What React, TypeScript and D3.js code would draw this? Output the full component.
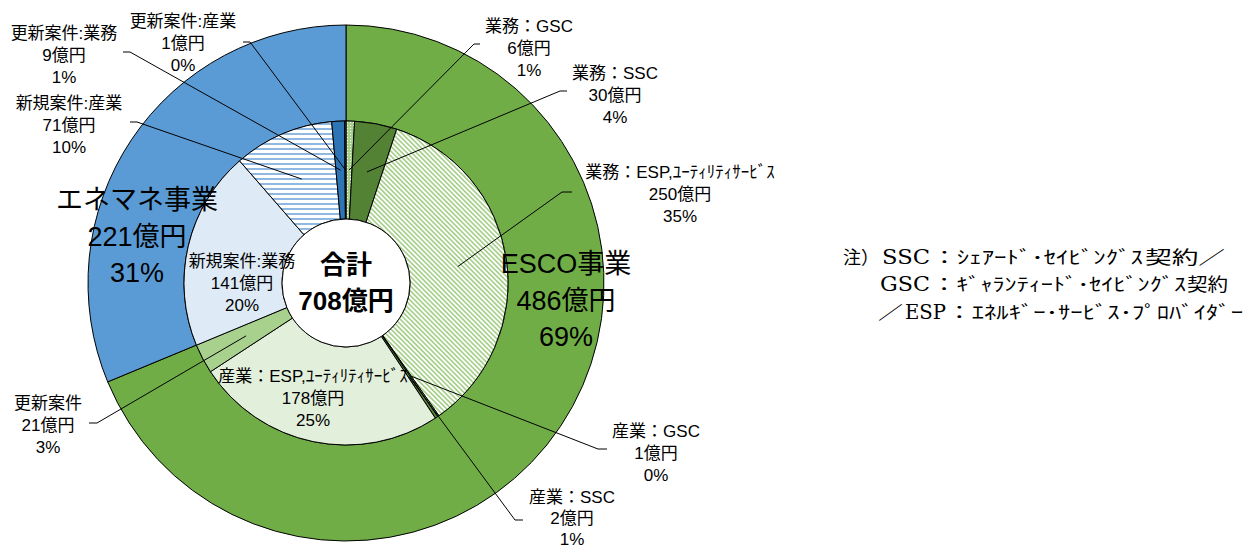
import React from 'react';
import * as d3 from 'd3';

// ---- data ----
const outerNames = ['ESCO事業', 'エネマネ事業'];
const outerValues = [486, 221];
const outerPct = ['69%', '31%'];

const innerNames = [
  '業務：GSC',
  '業務：SSC',
  '業務：ESP,ﾕｰﾃｨﾘﾃｨｻｰﾋﾞｽ',
  '産業：GSC',
  '産業：SSC',
  '産業：ESP,ﾕｰﾃｨﾘﾃｨｻｰﾋﾞｽ',
  '更新案件',
  '新規案件:業務',
  '新規案件:産業',
  '更新案件:業務',
  '更新案件:産業',
];
const innerValues = [6, 30, 250, 1, 2, 178, 21, 141, 71, 9, 1];
const innerPct = ['1%', '4%', '35%', '0%', '1%', '25%', '3%', '20%', '10%', '1%', '0%'];
const totalValue = 708;

const noteSegments = [
  ['注）', 'SSC', '：ｼｪｱｰﾄﾞ･ｾｲﾋﾞﾝｸﾞｽ', '契約／'],
  ['GSC', '：ｷﾞｬﾗﾝﾃｨｰﾄﾞ･ｾｲﾋﾞﾝｸﾞｽ', '契約'],
  ['／', 'ESP', '：ｴﾈﾙｷﾞｰ･ｻｰﾋﾞｽ･ﾌﾟﾛﾊﾞｲﾀﾞｰ'],
];

// ---- styles / layout ----
const outerFills = ['#70AD47', '#5B9BD5'];
const innerFills = [
  'url(#dots)',
  '#548235',
  'url(#diag)',
  'url(#dots)',
  '#548235',
  '#E2EFDA',
  '#A9D18E',
  '#DEEBF7',
  'url(#hstripe)',
  '#2E75B6',
  '#1F4E79',
];
const innerLabelLayout: { cx: number; y: number; tail: [number, number] | null; elbow: [number, number] | null }[] = [
  { cx: 529, y: 32, tail: [480, 44], elbow: [474, 44] },
  { cx: 615, y: 79, tail: [567, 91], elbow: [560, 91] },
  { cx: 680, y: 178, tail: [572, 192], elbow: [562, 192] },
  { cx: 656, y: 437, tail: [607, 449], elbow: [598, 449] },
  { cx: 572, y: 503, tail: [523, 520], elbow: [515, 520] },
  { cx: 313, y: 382, tail: null, elbow: null },
  { cx: 48, y: 409, tail: [89, 423], elbow: [97, 423] },
  { cx: 242, y: 267, tail: null, elbow: null },
  { cx: 69, y: 109, tail: [130, 122], elbow: [137, 122] },
  { cx: 64, y: 39, tail: [123, 52], elbow: [130, 52] },
  { cx: 183, y: 27, tail: [243, 42], elbow: [250, 42] },
];
const innerLabelGap = [22, 22, 22, 22, 21, 22, 22, 22, 22, 22, 22];
const outerLabelLayout = [
  { cx: 566, y: 273 },
  { cx: 137, y: 209 },
];
// note segment placement: [x, width, isSerifLatin]
const noteLayout: [number, number, boolean][][] = [
  [[843, 36, false], [882, 48, true], [932, 211, false], [1145, 80, false]],
  [[880, 50, true], [932, 254, false], [1187, 41, false]],
  [[878, 25, false], [905, 41, true], [947, 296, false]],
];
const noteBaselines = [264, 291, 319];

const W = 1249;
const H = 549;
const CX = 346;
const CY = 283;
const R_OUT = 258;
const R_MID = 162;
const R_HOLE = 64;
const FONT = "'Liberation Sans', Arial, 'Noto Sans CJK JP', sans-serif";
const SERIF = "'DejaVu Serif', 'Liberation Serif', 'Noto Sans CJK JP', serif";

export default function App() {
  const pie = d3
    .pie<number>()
    .sort(null)
    .value((d) => d)
    .startAngle(0)
    .endAngle(2 * Math.PI);

  const outerArcs = pie(outerValues);
  const innerArcs = pie(innerValues);

  const outerArc = d3.arc<d3.PieArcDatum<number>>().innerRadius(R_MID).outerRadius(R_OUT);
  const innerArc = d3.arc<d3.PieArcDatum<number>>().innerRadius(R_HOLE).outerRadius(R_MID);
  const rAnchor = (R_HOLE + R_MID) / 2;

  const anchor = (a: d3.PieArcDatum<number>): [number, number] => {
    const m = (a.startAngle + a.endAngle) / 2;
    return [CX + rAnchor * Math.sin(m), CY - rAnchor * Math.cos(m)];
  };

  const smallSize = 17;
  const bigSize = 27;
  const bigGap = 36.5;

  return (
    <div style={{ position: 'absolute', left: 0, top: 0 }}>
      <svg width={W} height={H} style={{ display: 'block', background: '#fff' }}>
        <defs>
          <pattern id="diag" width={4} height={3.4} patternUnits="userSpaceOnUse" patternTransform="rotate(45)">
            <rect width={4} height={3.4} fill="#fff" />
            <rect width={4} height={1.7} fill="#A9D18E" />
          </pattern>
          <pattern id="hstripe" width={6} height={5} patternUnits="userSpaceOnUse">
            <rect width={6} height={5} fill="#fff" />
            <rect width={6} height={2} fill="#8FB9E3" />
          </pattern>
          <pattern id="dots" width={3} height={3} patternUnits="userSpaceOnUse">
            <rect width={3} height={3} fill="#A9D18E" />
            <rect x={1} y={1} width={1} height={1} fill="#fff" />
          </pattern>
        </defs>

        <g transform={`translate(${CX},${CY})`}>
          {outerArcs.map((a, i) => (
            <path key={'o' + i} d={outerArc(a) || ''} fill={outerFills[i]} stroke="#000" strokeWidth={1} />
          ))}
          {innerArcs.map((a, i) => (
            <path key={'i' + i} d={innerArc(a) || ''} fill={innerFills[i]} stroke="#000" strokeWidth={1} />
          ))}
          <circle r={R_HOLE} fill="#fff" stroke="#000" strokeWidth={1} />
        </g>

        {/* leader lines */}
        {innerArcs.map((a, i) => {
          const L = innerLabelLayout[i];
          if (!L.tail || !L.elbow) return null;
          const p = anchor(a);
          const path = d3.path();
          path.moveTo(L.tail[0], L.tail[1]);
          path.lineTo(L.elbow[0], L.elbow[1]);
          path.lineTo(p[0], p[1]);
          return <path key={'l' + i} d={path.toString()} fill="none" stroke="#000" strokeWidth={1} />;
        })}

        {/* inner labels */}
        {innerArcs.map((a, i) => {
          const L = innerLabelLayout[i];
          const lines = [innerNames[i], `${innerValues[i]}億円`, innerPct[i]];
          return (
            <text key={'t' + i} fontFamily={FONT} fontSize={smallSize} fill="#000" textAnchor="middle">
              {lines.map((s, j) => (
                <tspan key={j} x={L.cx} y={L.y + j * innerLabelGap[i]}>
                  {s}
                </tspan>
              ))}
            </text>
          );
        })}

        {/* outer labels */}
        {outerArcs.map((a, i) => {
          const L = outerLabelLayout[i];
          const lines = [outerNames[i], `${outerValues[i]}億円`, outerPct[i]];
          return (
            <text key={'ot' + i} fontFamily={FONT} fontSize={bigSize} fill="#000" textAnchor="middle">
              {lines.map((s, j) => (
                <tspan key={j} x={L.cx} y={L.y + j * bigGap}>
                  {s}
                </tspan>
              ))}
            </text>
          );
        })}

        {/* center total */}
        <text fontFamily={FONT} fontSize={26} fontWeight="bold" textAnchor="middle" fill="#000">
          <tspan x={CX} y={274}>合計</tspan>
          <tspan x={CX} y={310}>{`${totalValue}億円`}</tspan>
        </text>

        {/* note */}
        {noteSegments.map((segs, i) =>
          segs.map((s, j) => {
            const [x, w, latin] = noteLayout[i][j];
            return (
              <text
                key={`n${i}-${j}`}
                x={x}
                y={noteBaselines[i]}
                fontFamily={SERIF}
                fontSize={latin ? 20 : 18}
                fill="#000"
                textLength={w}
                lengthAdjust="spacingAndGlyphs"
              >
                {s}
              </text>
            );
          })
        )}
      </svg>
    </div>
  );
}
